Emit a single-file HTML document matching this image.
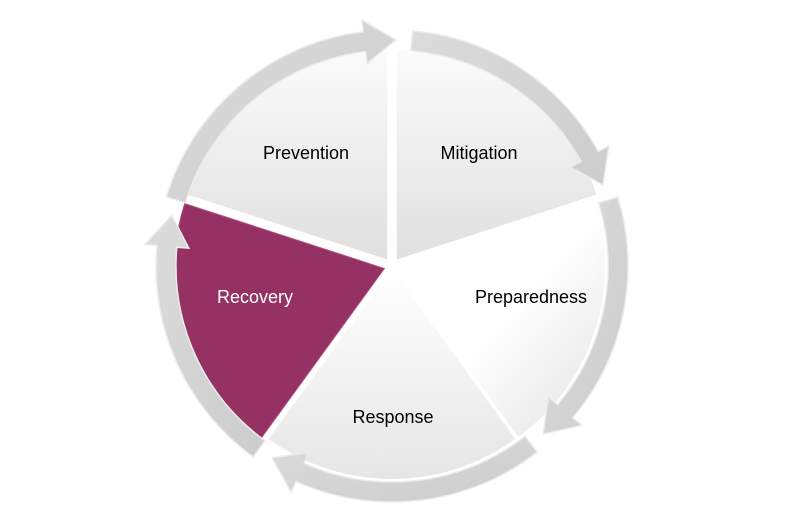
<!DOCTYPE html>
<html><head><meta charset="utf-8"><style>
html,body{margin:0;padding:0;background:#fff;}
svg{display:block;}
text{font-family:"Liberation Sans",sans-serif;font-size:18px;}
</style></head><body>
<svg id="s" width="786" height="524" viewBox="0 0 786 524">
<defs>
<linearGradient id="gt" x1="0" y1="0" x2="0" y2="1"><stop offset="0" stop-color="#fbfbfb"/><stop offset="1" stop-color="#e0e0e0"/></linearGradient>
<linearGradient id="gp" x1="0" y1="0" x2="1" y2="1"><stop offset="0" stop-color="#ffffff"/><stop offset="0.5" stop-color="#ffffff"/><stop offset="1" stop-color="#e2e2e2"/></linearGradient>
<linearGradient id="gb" x1="0" y1="0" x2="0" y2="1"><stop offset="0" stop-color="#ffffff"/><stop offset="1" stop-color="#e6e6e6"/></linearGradient>
<linearGradient id="gr" x1="0" y1="0" x2="1" y2="1"><stop offset="0" stop-color="#dcdcdc"/><stop offset="1" stop-color="#cccccc"/></linearGradient>
</defs>
<g id="pie"></g>
<g id="ring"></g>
<text x="306" y="159" text-anchor="middle">Prevention</text>
<text x="479" y="159" text-anchor="middle">Mitigation</text>
<text x="531" y="303" text-anchor="middle">Preparedness</text>
<text x="393" y="423" text-anchor="middle">Response</text>
<text x="255" y="303" text-anchor="middle" fill="#fff">Recovery</text>
</svg>
<script>
var cx=392,cy=266,R=210,d=Math.PI/180;
function P(r,a,ox,oy){return (cx+(ox||0)+r*Math.cos(a*d)).toFixed(1)+","+(cy+(oy||0)+r*Math.sin(a*d)).toFixed(1);}
var segs=[[198,270,"url(#gt)",8],[270,342,"url(#gt)",8],[342,414,"url(#gp)",3],[54,126,"url(#gb)",3],[126,198,"#953163",8]];
var pie="";
segs.forEach(function(s){var m=(s[0]+s[1])/2,ox=s[3]*Math.cos(m*d),oy=s[3]*Math.sin(m*d);
pie+='<path d="M'+P(0,0,ox,oy)+' L'+P(R,s[0],ox,oy)+' A'+R+','+R+' 0 0 1 '+P(R,s[1],ox,oy)+' Z" fill="'+s[2]+'" stroke="'+(s[2]=="#953163"?"#b0507f":"none")+'" stroke-width="1"/>';});
document.getElementById("pie").innerHTML=pie;
var arr=[[197,271],[275,339],[343,408],[52,122],[126,193]];
var ri=216,ro=236,hi=204,ho=248,rm=226,hl=8,ring="";
arr.forEach(function(a){var a0=a[0],a1=a[1],b=a1-hl;
ring+='<path d="M'+P(ro,a0)+' A'+ro+','+ro+' 0 0 1 '+P(ro,b)+' L'+P(ho,b)+' L'+P(rm,a1)+' L'+P(hi,b)+' L'+P(ri,b)+' A'+ri+','+ri+' 0 0 0 '+P(ri,a0)+' Z" fill="url(#gr)" stroke="#ececec" stroke-width="1.5"/>';});
document.getElementById("ring").innerHTML=ring;
</script>
</body></html>
